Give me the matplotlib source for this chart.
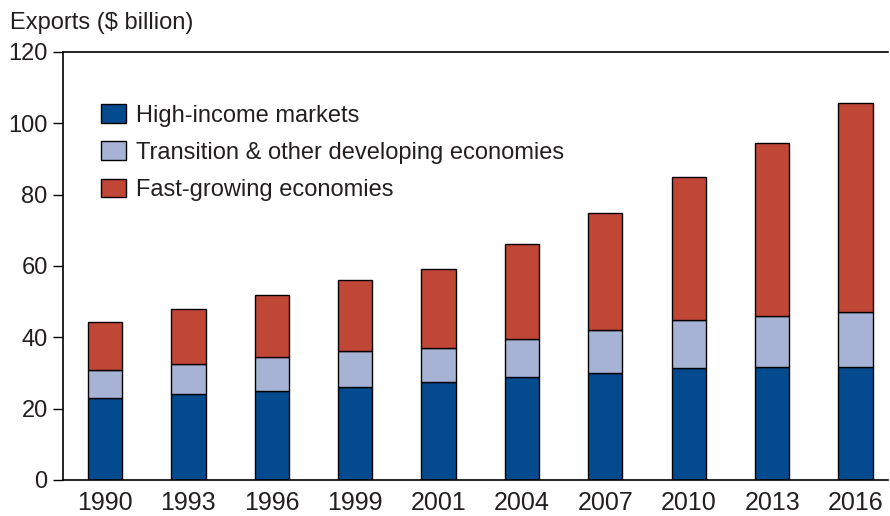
import numpy as np
import matplotlib
matplotlib.use('Agg')
import matplotlib.pyplot as plt

plt.rcParams['font.family'] = ['Liberation Sans', 'DejaVu Sans']
plt.rcParams['text.color'] = '#231f20'
plt.rcParams['xtick.labelcolor'] = '#231f20'
plt.rcParams['ytick.labelcolor'] = '#231f20'

years = ['1990', '1993', '1996', '1999', '2001', '2004', '2007', '2010', '2013', '2016']
# stacked totals
high_income = [23.1, 24.0, 25.0, 26.2, 27.4, 28.8, 30.1, 31.4, 31.6, 31.7]
transition_top = [30.8, 32.6, 34.4, 36.3, 37.1, 39.5, 42.1, 44.9, 45.9, 47.0]
total = [44.3, 47.9, 51.9, 56.1, 59.2, 66.3, 74.9, 84.9, 94.5, 105.6]

transition = np.array(transition_top) - np.array(high_income)
fast_growing = np.array(total) - np.array(transition_top)

c_blue = '#034b8e'
c_light = '#a7b3d5'
c_red = '#c04636'

fig = plt.figure(figsize=(8.9, 5.16), dpi=100)
ax = fig.add_axes([0.0708, 0.0698, 0.927, 0.8295])

x = np.arange(len(years))
w = 0.41
ax.bar(x, high_income, w, color=c_blue, edgecolor='black', linewidth=1,
       label='High-income markets')
ax.bar(x, transition, w, bottom=high_income, color=c_light, edgecolor='black',
       linewidth=1, label='Transition & other developing economies')
ax.bar(x, fast_growing, w, bottom=transition_top, color=c_red, edgecolor='black',
       linewidth=1, label='Fast-growing economies')

ax.set_xlim(-0.504, 9.39)
ax.set_ylim(0, 120)
ax.set_yticks(range(0, 121, 20))
ax.set_xticks(x)
ax.set_xticklabels(years)
ax.tick_params(axis='y', length=7, width=1, labelsize=17, pad=4)
ax.tick_params(axis='x', length=0, labelsize=18, pad=8)
ax.spines['right'].set_visible(False)
for s in ['left', 'top', 'bottom']:
    ax.spines[s].set_linewidth(1.2)

ax.legend(loc='upper left', bbox_to_anchor=(0.035, 0.9), frameon=False,
          fontsize=17, handlelength=1.05, handleheight=0.85, labelspacing=0.62,
          handletextpad=0.4, borderaxespad=0)

fig.text(0.011, 0.955, 'Exports ($ billion)', fontsize=17, va='center', ha='left')

fig.savefig('out.png', dpi=100)
